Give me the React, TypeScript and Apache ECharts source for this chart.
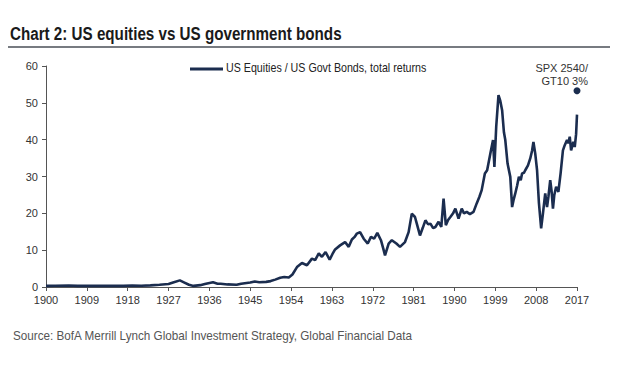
import React, { useEffect, useRef } from "react";
import * as echarts from "echarts";

const TITLE = "Chart 2: US equities vs US government bonds";
const SOURCE = "Source: BofA Merrill Lynch Global Investment Strategy, Global Financial Data";
const SERIES_NAME = "US Equities / US Govt Bonds, total returns";
const BASE_YEAR = 1900;
const X_TICK_STEP = 9;
const Y_TICKS = [0, 10, 20, 30, 40, 50, 60];

const years: number[] = [
  1900, 1902, 1905, 1907, 1910, 1913, 1915, 1917, 1919, 1921, 1923, 1925, 1927, 1928, 1929.5, 1930.5,
  1931.5, 1932.5, 1934, 1935, 1936.8, 1937.8, 1938.5, 1940, 1942, 1943, 1945, 1946, 1947, 1948.5, 1949.5,
  1950.5, 1951.6, 1952.5, 1953.5, 1954.3, 1955.3, 1956.4, 1957.5, 1958.6, 1959.3, 1960.1, 1960.8,
  1961.6, 1962.5, 1963.1, 1963.7, 1964.8, 1965.9, 1966.7, 1967.4, 1968, 1968.5, 1969.2, 1970,
  1970.9, 1971.6, 1972.3, 1973, 1973.8, 1974.3, 1974.7, 1975.5, 1976.2, 1977.2, 1978, 1979.1,
  1979.9, 1980.6, 1981.3, 1981.7, 1982.4, 1983, 1983.6, 1984.2, 1984.7, 1985.3, 1985.8, 1986.5,
  1987.1, 1987.6, 1988.1, 1988.6, 1989.1, 1989.7, 1990.2, 1990.9, 1991.6, 1992.1, 1992.7, 1993.4,
  1994.2, 1994.9, 1995.5, 1996, 1996.7, 1997.2, 1997.9, 1998.5, 1998.8, 1999.2, 1999.7, 2000.1,
  2000.5, 2000.9, 2001.2, 2001.7, 2002.3, 2002.7, 2003, 2003.4, 2003.8, 2004.2, 2004.6, 2004.9,
  2005.3, 2005.6, 2006.2, 2006.7, 2007.1, 2007.4, 2007.8, 2008.2, 2008.6, 2009.1, 2009.5, 2010,
  2010.4, 2010.7, 2011.1, 2011.4, 2011.7, 2012, 2012.4, 2012.9, 2013.4, 2013.9, 2014.3, 2014.8,
  2015.1, 2015.4, 2015.7, 2016, 2016.2, 2016.5, 2016.8, 2017,
];

const ratio: number[] = [
  0.3, 0.35, 0.4, 0.3, 0.35, 0.3, 0.35, 0.3, 0.4, 0.35, 0.45, 0.6, 0.8, 1.2, 1.8, 1.2,
  0.6, 0.3, 0.5, 0.8, 1.3, 0.9, 0.9, 0.7, 0.6, 0.9, 1.2, 1.5, 1.3, 1.4, 1.6,
  2.0, 2.5, 2.7, 2.6, 3.4, 5.4, 6.5, 5.9, 7.7, 7.3, 9.1, 8.2,
  9.5, 7.4, 8.9, 10.2, 11.3, 12.2, 10.9, 12.9, 13.6, 14.5, 14.9, 13.1,
  11.8, 13.6, 13.1, 14.7, 12.7, 10.5, 8.6, 11.8, 12.7, 11.8, 10.9, 12.2,
  14.9, 19.9, 19.0, 17.2, 14.0, 16.0, 18.1, 17.0, 17.2, 16.0, 16.3, 17.7,
  16.3, 24.0, 16.8, 18.2, 19.0, 20.0, 21.3, 18.6, 21.3, 20.0, 20.4, 19.8,
  20.4, 22.7, 24.5, 26.3, 30.8, 31.7, 36.2, 39.9, 32.6, 43.5, 52.1, 50.5,
  48.0, 42.0, 39.9, 33.5, 29.9, 21.7, 23.5, 25.4, 27.5, 29.9, 29.0, 30.8,
  31.0, 31.7, 33.0, 34.9, 37.0, 39.4, 36.2, 31.7, 23.0, 15.9, 20.0, 25.4,
  21.7, 24.5, 29.0, 26.0, 21.3, 25.0, 27.2, 25.8, 31.0, 37.1, 38.5, 39.9,
  39.0, 40.8, 37.1, 38.5, 39.4, 38.0, 41.5, 46.8,
];

const targetYear = 2017;
const targetValue = 53.3;
const targetLabel = "SPX 2540/\nGT10 3%";

const NAVY = "#1b2d4f";
const FONT = "'Liberation Sans', Arial, sans-serif";

export default function App() {
  const ref = useRef<HTMLDivElement>(null);
  useEffect(() => {
    if (!ref.current) return;
    const chart = echarts.init(ref.current, undefined, { renderer: "svg" });
    const lineData = years.map((y, i) => [y - BASE_YEAR, ratio[i]]);
    chart.setOption({
      animation: false,
      backgroundColor: "#ffffff",
      grid: { left: 46, right: 43, top: 66, bottom: 88 },
      xAxis: {
        type: "value",
        min: 0,
        max: 117,
        interval: X_TICK_STEP,
        axisLine: { show: true, lineStyle: { color: "#555", width: 1 } },
        axisTick: { show: true, length: 4, lineStyle: { color: "#555" } },
        splitLine: { show: false },
        axisLabel: {
          fontFamily: FONT,
          fontSize: 11,
          color: "#333",
          margin: 7,
          formatter: (v: number) => String(BASE_YEAR + v),
        },
      },
      yAxis: {
        type: "value",
        min: Y_TICKS[0],
        max: Y_TICKS[Y_TICKS.length - 1],
        interval: 10,
        axisLine: { show: true, lineStyle: { color: "#555", width: 1 } },
        axisTick: { show: true, length: 4, lineStyle: { color: "#555" } },
        splitLine: { show: false },
        axisLabel: { fontFamily: FONT, fontSize: 11, color: "#333", margin: 8 },
      },
      series: [
        {
          name: SERIES_NAME,
          type: "line",
          data: lineData,
          showSymbol: false,
          lineStyle: { color: NAVY, width: 2.6 },
          itemStyle: { color: NAVY },
        },
        {
          name: "target",
          type: "scatter",
          data: [[targetYear - BASE_YEAR, targetValue]],
          symbolSize: 7,
          itemStyle: { color: NAVY, opacity: 1 },
        },
      ],
      graphic: [
        {
          type: "text",
          x: 10,
          y: 24,
          scaleX: 0.8,
          style: {
            text: TITLE,
            fontFamily: FONT,
            fontSize: 19,
            fontWeight: "bold",
            fill: "#1a1a1a",
          },
        },
        {
          type: "line",
          shape: { x1: 8, y1: 47, x2: 610, y2: 47 },
          style: { stroke: "#4a4f57", lineWidth: 1.5 },
        },
        {
          type: "line",
          shape: { x1: 190, y1: 69, x2: 223, y2: 69 },
          style: { stroke: NAVY, lineWidth: 3 },
        },
        {
          type: "text",
          x: 226,
          y: 62,
          scaleX: 0.89,
          style: { text: SERIES_NAME, fontFamily: FONT, fontSize: 12, fill: "#222" },
        },
        {
          type: "text",
          x: 588,
          y: 61,
          style: {
            text: targetLabel,
            fontFamily: FONT,
            fontSize: 11,
            lineHeight: 13.5,
            align: "right",
            fill: "#333",
          },
        },
        {
          type: "text",
          x: 13,
          y: 329,
          scaleX: 0.9,
          style: { text: SOURCE, fontFamily: FONT, fontSize: 13, fill: "#555" },
        },
      ],
    });
    return () => chart.dispose();
  }, []);
  return (
    <div
      ref={ref}
      style={{ position: "fixed", left: 0, top: 0, width: 620, height: 375, background: "#fff" }}
    />
  );
}
